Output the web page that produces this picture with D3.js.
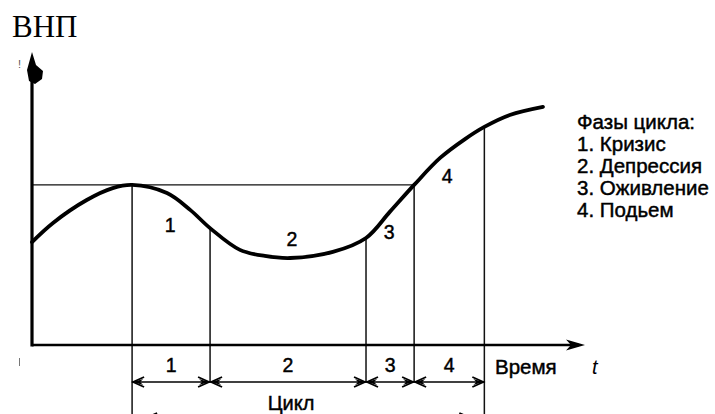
<!DOCTYPE html>
<html><head><meta charset="utf-8">
<script src="https://cdn.jsdelivr.net/npm/d3@7"></script>
<style>body{margin:0;background:#fff}svg{display:block}</style>
</head><body><svg id="c" width="715" height="414"></svg>
<script>
// ---- data ----
const curveT = [0, 3.8, 9.9, 14.6, 18.1, 24.4, 28.6, 32.2, 37.6, 42.1, 46.7, 54.4, 60.4, 64.7, 69.1, 73.8, 78.3, 81.8, 86.4, 92.4];
const curveV = [35.5, 42.1, 50.0, 54.1, 55.2, 52.4, 46.6, 40.3, 32.8, 30.7, 30.0, 32.1, 36.9, 45.9, 55.2, 64.5, 71.0, 75.2, 79.3, 82.1];
const phaseLabels = ["1", "2", "3", "4"];
const phaseBounds = [18.1, 32.2, 60.4, 69.1, 81.8];
const peakLevel = 55.2;
const curveLabelT = [25.0, 47.0, 64.6, 75.1];
const curveLabelV = [41.4, 36.6, 39.0, 58.3];
const legendTitle = "Фазы цикла:";
const legendItems = ["1. Кризис", "2. Депрессия", "3. Оживление", "4. Подьем"];
const yTitle = "ВНП", xTitle = "Время", xSymbol = "t", cycleTitle = "Цикл";

// ---- layout ----
const W = 715, H = 414;
const x = d3.scaleLinear().domain([0, 100]).range([32, 585]);
const y = d3.scaleLinear().domain([0, 100]).range([345, 55]);
const rowY = 382, cycleY = 418;
const sans = "'Liberation Sans', Arial, sans-serif";
const svg = d3.select("#c");

function sansText(sel, size) {
  return sel.attr("font-family", sans).attr("font-size", size)
    .attr("fill", "#000").attr("stroke", "#000").attr("stroke-width", 0.45);
}

const pts = curveT.map((t, i) => [t, curveV[i]]);
function valAt(t) {
  const i = Math.max(1, Math.min(curveT.length - 1, d3.bisectLeft(curveT, t)));
  const t0 = curveT[i - 1], t1 = curveT[i];
  const k = (t - t0) / (t1 - t0);
  return curveV[i - 1] + k * (curveV[i] - curveV[i - 1]);
}

// horizontal level line
svg.append("line").attr("x1", x(0)).attr("x2", x(phaseBounds[3]))
  .attr("y1", y(peakLevel)).attr("y2", y(peakLevel))
  .attr("stroke", "#111").attr("stroke-width", 1.4);

// vertical phase lines
phaseBounds.forEach((b, i) => {
  const top = (i === 0 || i === 3) ? y(peakLevel) : y(valAt(b));
  const bottom = (i === 0 || i === 4) ? H : rowY;
  svg.append("line").attr("x1", x(b)).attr("x2", x(b))
    .attr("y1", top).attr("y2", bottom)
    .attr("stroke", "#111").attr("stroke-width", 1.5);
});

// axes
svg.append("line").attr("x1", x(0)).attr("x2", x(0)).attr("y1", y(100) + 4).attr("y2", y(0) + 1.5)
  .attr("stroke", "#000").attr("stroke-width", 3.2);
svg.append("path").attr("d", `M${x(0)},${y(100)-3} L${x(0)-5},${y(100)+15} L${x(0)-3},${y(100)+26} L${x(0)+3},${y(100)+29} L${x(0)+10},${y(100)+24} L${x(0)+11},${y(100)+16} L${x(0)+4},${y(100)+10} Z`)
  .attr("fill", "#000");
svg.append("line").attr("x1", x(0)).attr("x2", x(100) - 6).attr("y1", y(0)).attr("y2", y(0))
  .attr("stroke", "#000").attr("stroke-width", 2.6);
svg.append("path").attr("d", `M${x(100)},${y(0)} L${x(100)-19},${y(0)-5.5} L${x(100)-14},${y(0)} L${x(100)-19},${y(0)+5.5} Z`)
  .attr("fill", "#000");

// curve
svg.append("path").datum(pts)
  .attr("d", d3.line().x(d => x(d[0])).y(d => y(d[1])).curve(d3.curveCatmullRom.alpha(0.5)))
  .attr("fill", "none").attr("stroke", "#000").attr("stroke-width", 3.8).attr("stroke-linecap", "round");

// curve labels
phaseLabels.forEach((p, i) => {
  sansText(svg.append("text"), 19.5).attr("x", x(curveLabelT[i])).attr("y", y(curveLabelV[i]))
    .attr("text-anchor", "middle").attr("dominant-baseline", "central").text(p);
});

// arrow helper
function head(px, py, dir) {
  svg.append("path")
    .attr("d", `M${px + dir * 11},${py - 5} L${px},${py} L${px + dir * 11},${py + 5}`)
    .attr("fill", "none").attr("stroke", "#000").attr("stroke-width", 1.8);
  svg.append("path")
    .attr("d", `M${px},${py} L${px + dir * 10},${py - 3} L${px + dir * 7},${py} L${px + dir * 10},${py + 3} Z`)
    .attr("fill", "#000");
}

// phase duration arrows
phaseLabels.forEach((p, i) => {
  const a = x(phaseBounds[i]), b = x(phaseBounds[i + 1]);
  svg.append("line").attr("x1", a).attr("x2", b).attr("y1", rowY).attr("y2", rowY)
    .attr("stroke", "#000").attr("stroke-width", 1.6);
  head(a + 1, rowY, 1);
  head(b - 1, rowY, -1);
  sansText(svg.append("text"), 19.5).attr("x", (a + b) / 2).attr("y", rowY - 10)
    .attr("text-anchor", "middle").text(p);
});

// cycle arrow (cut at bottom)
const ca = x(phaseBounds[0]) + 14, cb = x(phaseBounds[4]) - 14;
svg.append("line").attr("x1", ca).attr("x2", cb).attr("y1", cycleY).attr("y2", cycleY)
  .attr("stroke", "#000").attr("stroke-width", 1.6);
head(ca, cycleY, 1);
head(cb, cycleY, -1);
sansText(svg.append("text"), 20).attr("x", x(phaseBounds[0]) + 159).attr("y", 410)
  .attr("text-anchor", "middle").text(cycleTitle);

// axis titles
svg.append("text").attr("x", 12).attr("y", 37)
  .attr("font-family", "'Liberation Serif', 'Times New Roman', serif").attr("font-size", 31).text(yTitle);
sansText(svg.append("text"), 20.5).attr("x", 495).attr("y", 374).text(xTitle);
svg.append("text").attr("x", 592).attr("y", 374)
  .attr("font-family", sans).attr("font-style", "italic").attr("font-size", 20).text(xSymbol);

// legend
const lg = svg.append("g");
[legendTitle].concat(legendItems).forEach((s, i) => {
  sansText(lg.append("text"), 20.5).attr("x", 577).attr("y", 129 + i * 22).text(s);
});

// scan marks
svg.append("text").attr("x", 18).attr("y", 68).attr("font-family", sans).attr("font-size", 11).attr("fill", "#555").text("!");
svg.append("line").attr("x1", 19.5).attr("x2", 19.5).attr("y1", 358).attr("y2", 366).attr("stroke", "#777").attr("stroke-width", 1);
</script></body></html>
